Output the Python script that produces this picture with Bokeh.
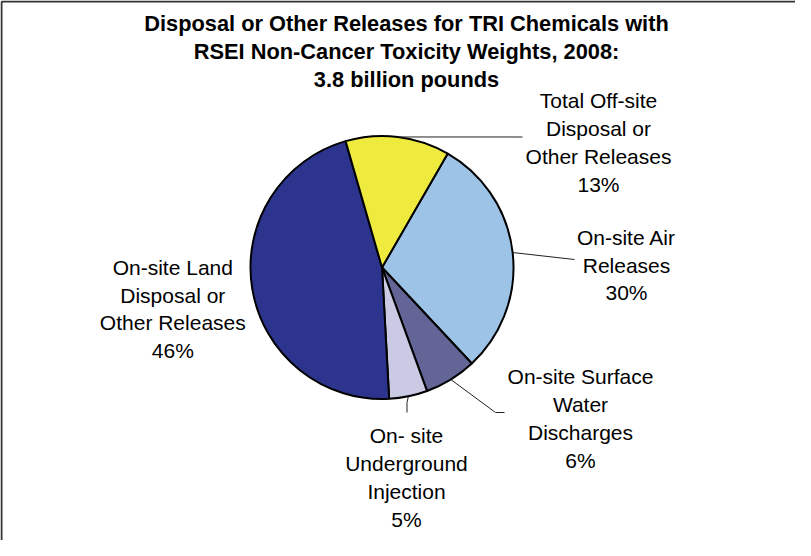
import math
from bokeh.plotting import figure
from bokeh.models import Range1d, ColumnDataSource
from bokeh.core.properties import value
from bokeh.embed import file_html
from bokeh.resources import INLINE

# ---------------- data ----------------
title_lines = [
    "Disposal or Other Releases for TRI Chemicals with",
    "RSEI Non-Cancer Toxicity Weights, 2008:",
    "3.8 billion pounds",
]
categories = [
    "On-site Air Releases",
    "On-site Surface Water Discharges",
    "On- site Underground Injection",
    "On-site Land Disposal or Other Releases",
    "Total Off-site Disposal or Other Releases",
]
label_lines = [
    ["On-site Air", "Releases"],
    ["On-site Surface", "Water", "Discharges"],
    ["On- site", "Underground", "Injection"],
    ["On-site Land", "Disposal or", "Other Releases"],
    ["Total Off-site", "Disposal or", "Other Releases"],
]
shares = [29.7, 6.4, 4.7, 46.4, 12.8]  # percent
colors = ["#9DC3E6", "#636596", "#CBCAE5", "#2D348D", "#EFEB3E"]

# ---------------- layout (page pixel coordinates) ----------------
W, H = 811, 556
MARGIN = 8
CX, CY, R = 389.5, 275.0, 131.5
FIRST_ANGLE = 30.0  # degrees clockwise from 12 o'clock

# label anchor: center x, first baseline y, line spacing
label_pos = [
    (634.0, 245.0, 27.5),
    (588.0, 384.3, 27.9),
    (414.0, 443.3, 28.0),
    (180.3, 275.0, 27.5),
    (606.0, 108.4, 27.8),
]
# leader paths after the point on the pie edge (None = no leader)
leader_tail = [
    [(582.0, 267.0)],
    [(503.0, 420.0), (512.0, 420.0)],
    [(414.5, 410.0), (414.5, 420.0)],
    None,
    [(530.0, 144.5)],
]

def Y(py):
    return -py

p = figure(width=W - 2 * MARGIN, height=H - 2 * MARGIN,
           x_range=Range1d(MARGIN, W - MARGIN), y_range=Range1d(-(H - MARGIN), -MARGIN),
           output_backend="svg", toolbar_location=None, min_border=0,
           background_fill_color="white", border_fill_color="white")
p.axis.visible = False
p.xgrid.visible = False
p.ygrid.visible = False
p.outline_line_color = None

# outer chart border (left and top visible)
p.line(x=[9, 9], y=[Y(9), Y(H)], line_color="#333333", line_width=2)
p.line(x=[9, W], y=[Y(9), Y(9)], line_color="#333333", line_width=2)

# wedges
total = sum(shares)
starts, ends, mids = [], [], []
acc = FIRST_ANGLE
for s in shares:
    a0 = acc
    a1 = acc + s / total * 360.0
    starts.append(math.radians(90 - a0))
    ends.append(math.radians(90 - a1))
    mids.append((a0 + a1) / 2.0)
    acc = a1

src = ColumnDataSource(dict(start=starts, end=ends, color=colors, cat=categories))
p.wedge(x=CX, y=Y(CY), radius=R, start_angle="start", end_angle="end",
        direction="clock", fill_color="color", line_color="black", line_width=2,
        source=src)

# leader lines
for mid, tail in zip(mids, leader_tail):
    if tail is None:
        continue
    t = math.radians(mid)
    ex = CX + R * math.sin(t)
    ey = CY - R * math.cos(t)
    xs = [ex] + [q[0] for q in tail]
    ys = [Y(ey)] + [Y(q[1]) for q in tail]
    p.line(x=xs, y=ys, line_color="#222222", line_width=1)

# labels
lx, ly, lt = [], [], []
for lines, s, (cx, by, sp) in zip(label_lines, shares, label_pos):
    all_lines = lines + [f"{round(s)}%"]
    for i, txt in enumerate(all_lines):
        lx.append(cx)
        ly.append(Y(by + i * sp))
        lt.append(txt)
p.text(x=lx, y=ly, text=lt, text_font=value("Liberation Sans"), text_font_size="21px",
       text_align="center", text_baseline="alphabetic", text_color="black")

# title
tx = [414.0] * len(title_lines)
ty = [Y(30.5 + i * 28.4) for i in range(len(title_lines))]
p.text(x=tx, y=ty, text=title_lines, text_font=value("Liberation Sans"),
       text_font_size="21.8px", text_font_style="bold",
       text_align="center", text_baseline="alphabetic", text_color="black")

open("out.html", "w").write(file_html(p, INLINE))
